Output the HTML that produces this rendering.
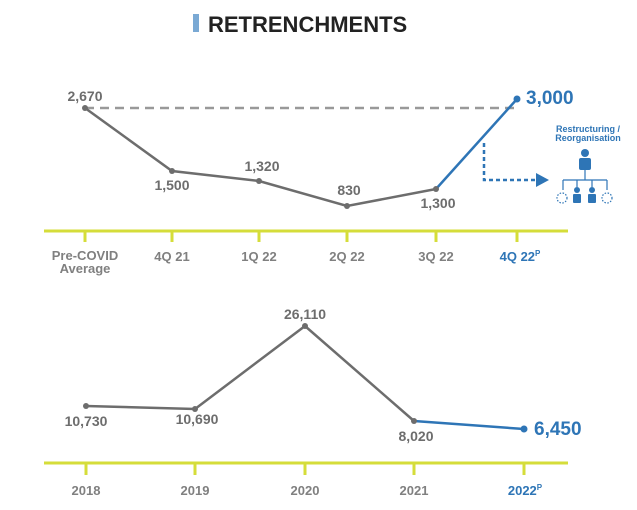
<!DOCTYPE html>
<html><head><style>
body{margin:0;background:#fff;}
svg{display:block;font-family:"Liberation Sans",sans-serif;font-weight:bold;}
</style></head><body>
<svg width="637" height="510" viewBox="0 0 637 510">
<rect x="193" y="14" width="6" height="18" fill="#7aa9d4"/>
<text x="208" y="32" font-size="22" fill="#222">RETRENCHMENTS</text>

<!-- top axis -->
<g stroke="#d5dd3a" stroke-width="3">
<line x1="44" y1="231" x2="568" y2="231"/>
<line x1="85" y1="231" x2="85" y2="242"/><line x1="172" y1="231" x2="172" y2="242"/>
<line x1="259" y1="231" x2="259" y2="242"/><line x1="347" y1="231" x2="347" y2="242"/>
<line x1="436" y1="231" x2="436" y2="242"/><line x1="517" y1="231" x2="517" y2="242"/>
</g>
<g font-size="13" fill="#808080" text-anchor="middle">
<text x="85" y="260">Pre-COVID</text><text x="85" y="273">Average</text>
<text x="172" y="261">4Q 21</text><text x="259" y="261">1Q 22</text>
<text x="347" y="261">2Q 22</text><text x="436" y="261">3Q 22</text>
<text x="520" y="261" fill="#2e75b6">4Q 22<tspan font-size="8" dy="-5">P</tspan></text>
</g>
<line x1="85" y1="108" x2="517" y2="108" stroke="#999" stroke-width="2.5" stroke-dasharray="9,6"/>
<polyline points="85,108 172,171 259,181 347,206 436,189" fill="none" stroke="#6d6d6d" stroke-width="2.5"/>
<line x1="436" y1="189" x2="517" y2="99" stroke="#2e75b6" stroke-width="2.5"/>
<g fill="#6d6d6d"><circle cx="85" cy="108" r="3"/><circle cx="172" cy="171" r="3"/><circle cx="259" cy="181" r="3"/><circle cx="347" cy="206" r="3"/><circle cx="436" cy="189" r="3"/></g>
<circle cx="517" cy="99" r="3.5" fill="#2e75b6"/>
<g font-size="14" fill="#6d6d6d" text-anchor="middle">
<text x="85" y="101">2,670</text><text x="172" y="190">1,500</text>
<text x="262" y="171">1,320</text><text x="349" y="195">830</text><text x="438" y="208">1,300</text>
</g>
<text x="526" y="104" font-size="19" fill="#2e75b6">3,000</text>
<polyline points="484,143 484,180 538,180" fill="none" stroke="#2e75b6" stroke-width="2.5" stroke-dasharray="4,3"/>
<polygon points="536,173 549,180 536,187" fill="#2e75b6"/>
<g font-size="9" fill="#2e75b6" text-anchor="middle"><text x="588" y="132">Restructuring /</text><text x="588" y="141">Reorganisation</text></g>
<g fill="#2e75b6">
<circle cx="585" cy="153" r="4"/><rect x="579" y="158" width="12" height="12" rx="2"/>
<circle cx="577" cy="190" r="3"/><rect x="573" y="194" width="8" height="9" rx="1"/>
<circle cx="592" cy="190" r="3"/><rect x="588" y="194" width="8" height="9" rx="1"/>
</g>
<g stroke="#2e75b6" stroke-width="1.2" fill="none">
<line x1="585" y1="170" x2="585" y2="180"/><line x1="563" y1="180" x2="607" y2="180"/>
<line x1="563" y1="180" x2="563" y2="190"/><line x1="577" y1="180" x2="577" y2="187"/>
<line x1="592" y1="180" x2="592" y2="187"/><line x1="607" y1="180" x2="607" y2="190"/>
<circle cx="562" cy="198" r="5" stroke-dasharray="1.5,1.5"/><circle cx="607" cy="198" r="5" stroke-dasharray="1.5,1.5"/>
</g>

<!-- bottom axis -->
<g stroke="#d5dd3a" stroke-width="3">
<line x1="44" y1="463" x2="568" y2="463"/>
<line x1="86" y1="463" x2="86" y2="475"/><line x1="195" y1="463" x2="195" y2="475"/>
<line x1="305" y1="463" x2="305" y2="475"/><line x1="414" y1="463" x2="414" y2="475"/>
<line x1="524" y1="463" x2="524" y2="475"/>
</g>
<g font-size="13" fill="#808080" text-anchor="middle">
<text x="86" y="495">2018</text><text x="195" y="495">2019</text><text x="305" y="495">2020</text><text x="414" y="495">2021</text>
<text x="525" y="495" fill="#2e75b6">2022<tspan font-size="8" dy="-5">P</tspan></text>
</g>
<polyline points="86,406 195,409 305,326 414,421" fill="none" stroke="#6d6d6d" stroke-width="2.5"/>
<line x1="414" y1="421" x2="524" y2="429" stroke="#2e75b6" stroke-width="2.5"/>
<g fill="#6d6d6d"><circle cx="86" cy="406" r="3"/><circle cx="195" cy="409" r="3"/><circle cx="305" cy="326" r="3"/><circle cx="414" cy="421" r="3"/></g>
<circle cx="524" cy="429" r="3.5" fill="#2e75b6"/>
<g font-size="14" fill="#6d6d6d" text-anchor="middle">
<text x="86" y="426">10,730</text><text x="197" y="424">10,690</text>
<text x="305" y="319">26,110</text><text x="416" y="441">8,020</text>
</g>
<text x="534" y="435" font-size="19" fill="#2e75b6">6,450</text>
</svg>
</body></html>
